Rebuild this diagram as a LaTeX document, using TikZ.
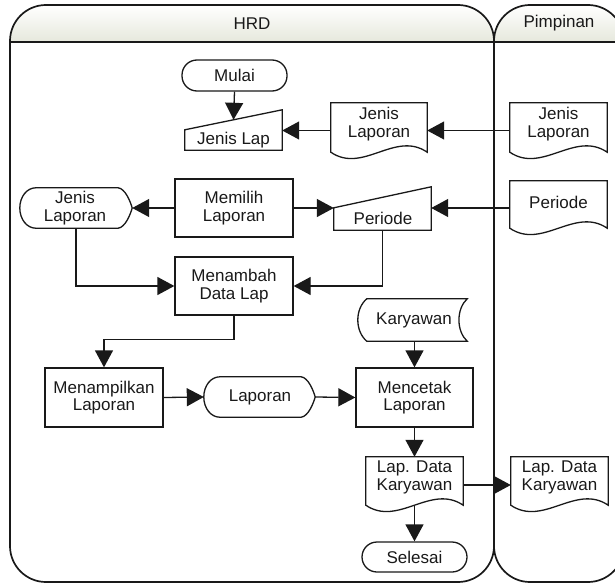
\documentclass[tikz,border=0pt]{standalone}
\usepackage{fontspec}
\setmainfont{Liberation Sans}
\usetikzlibrary{arrows.meta,calc}
\definecolor{hdr}{RGB}{230,232,220}
\definecolor{ink}{RGB}{25,25,25}
\newcommand\docshp[1]{\draw[shp] (#1.south west) -- (#1.north west) -- (#1.north east) -- (#1.south east) .. controls ($(#1.south east)!0.333!(#1.south west)+(0,-22)$) and ($(#1.south east)!0.667!(#1.south west)+(0,22)$) .. (#1.south west) -- cycle;}
\newcommand\manshp[2]{\draw[shp] ($(#1.north west)+(0,#2)$) -- (#1.north east) -- (#1.south east) -- (#1.south west) -- cycle;}
\newcommand\dispshp[1]{\draw[shp] ($(#1.north west)+(16,0)$) -- ($(#1.north east)+(-14,0)$) .. controls ($(#1.north east)+(-7,1)$) and ($(#1.east)+(-2,-7)$) .. (#1.east) .. controls ($(#1.east)+(-2,7)$) and ($(#1.south east)+(-7,-1)$) .. ($(#1.south east)+(-14,0)$) -- ($(#1.south west)+(16,0)$) .. controls ($(#1.south west)+(7,0)$) and ($(#1.west)!0.552!(#1.south west)$) .. (#1.west) .. controls ($(#1.west)!0.552!(#1.north west)$) and ($(#1.north west)+(7,0)$) .. cycle;}
\newcommand\storshp[1]{\draw[shp] ($(#1.north west)+(9,0)$) -- (#1.north east) .. controls ($(#1.north east)+(-11,10)$) and ($(#1.south east)+(-11,-10)$) .. (#1.south east) -- ($(#1.south west)+(9,0)$) .. controls ($(#1.south west)+(-3,-10)$) and ($(#1.north west)+(-3,10)$) .. cycle;}
\begin{document}
\begin{tikzpicture}[x=1pt,y=-1pt, font=\fontsize{17}{17.5}\selectfont, text=ink,
  shp/.style={draw=ink, line width=1.3pt},
  arr/.style={draw=ink, line width=1.3pt, -{Triangle[length=17pt,width=18pt]}},
  proc/.style={shp, rectangle, align=center, inner sep=0pt},
  term/.style={shp, rectangle, align=center, inner sep=0pt},
  blank/.style={inner sep=0pt, align=center},
  txt/.style={inner sep=0pt, align=center},
  lane/.style={draw=ink, line width=1.7pt, rounded corners=36pt}]
\useasboundingbox (0,0) rectangle (615,583);
\clip (0,0) rectangle (615,583);
% lanes
\begin{scope}
  \clip[rounded corners=36pt] (10,5) rectangle (494,582);
  \shade[top color=white, bottom color=hdr] (10,5) rectangle (494,42);
\end{scope}
\begin{scope}
  \clip[rounded corners=36pt] (494,5) rectangle (624,582);
  \shade[top color=white, bottom color=hdr] (494,5) rectangle (624,42);
\end{scope}
\draw[lane] (10,5) rectangle (494,582);
\draw[lane] (494,5) rectangle (624,582);
\draw[draw=ink, line width=1.5pt] (10,42) -- (624,42);
\node[txt] (hrdt) at (252,23.5) {HRD};
\node[txt] (pimt) at (559,23.5) {Pimpinan};
% nodes
\node[term, rounded corners=15pt, minimum width=105pt, minimum height=31pt] (mulai) at (234.5,75.5) {Mulai};
\node[blank, minimum width=97pt, minimum height=40pt] (jlap) at (233.5,130) {};
\manshp{jlap}{20}
\node[txt] (jlapt) at (233.5,140) {Jenis Lap};
\node[blank, minimum width=96pt, minimum height=49pt] (jlh) at (379,127.5) {};
\docshp{jlh}
\node[txt] (jlht) at (379,124) {Jenis\\Laporan};
\node[blank, minimum width=97pt, minimum height=49pt] (jlp) at (558.5,127.5) {};
\docshp{jlp}
\node[txt] (jlpt) at (558.5,124) {Jenis\\Laporan};
\node[proc, minimum width=118pt, minimum height=58pt] (memilih) at (234,208) {Memilih\\Laporan};
\node[blank, minimum width=112pt, minimum height=40pt] (jld) at (76,208) {};
\dispshp{jld}
\node[txt] (jldt) at (75,208) {Jenis\\Laporan};
\node[blank, minimum width=97pt, minimum height=43pt] (perm) at (382.5,208.5) {};
\manshp{perm}{21}
\node[txt] (permt) at (383,218) {Periode};
\node[blank, minimum width=97pt, minimum height=47pt] (perp) at (558.5,204.5) {};
\docshp{perp}
\node[txt] (perpt) at (558.5,202) {Periode};
\node[proc, minimum width=118pt, minimum height=58pt] (menambah) at (234,286) {Menambah\\Data Lap};
\node[proc, minimum width=118pt, minimum height=59pt] (menampilkan) at (104,397.5) {Menampilkan\\Laporan};
\node[blank, minimum width=111pt, minimum height=40pt] (lap) at (259.5,397) {};
\dispshp{lap}
\node[txt] (lapt) at (260,397) {Laporan};
\node[proc, minimum width=117pt, minimum height=59pt] (mencetak) at (414.5,397.5) {Mencetak\\Laporan};
\node[blank, minimum width=109pt, minimum height=42pt] (kary) at (412.5,320) {};
\storshp{kary}
\node[txt] (karyt) at (414,320) {Karyawan};
\node[blank, minimum width=97pt, minimum height=48pt] (ldkh) at (414.5,481) {};
\docshp{ldkh}
\node[txt] (ldkht) at (414.5,477.5) {Lap. Data\\Karyawan};
\node[blank, minimum width=97pt, minimum height=48pt] (ldkp) at (559.5,481) {};
\docshp{ldkp}
\node[txt] (ldkpt) at (559.5,477.5) {Lap. Data\\Karyawan};
\node[term, rounded corners=15pt, minimum width=105pt, minimum height=30pt] (selesai) at (414.5,557) {Selesai};
% connectors
\coordinate (jlhw) at ($(jlh.west)+(0,3)$);
\coordinate (ldkhe) at ($(ldkh.east)+(0,4)$);
\draw[arr] (mulai.south) -- ($(jlap.north)+(0,10)$);
\draw[arr] ($(jlp.west)+(0,3)$) -- ($(jlh.east)+(0,3)$);
\draw[arr] (jlhw) -- (jlhw -| jlap.east);
\draw[arr] (memilih.west) -- (jld.east);
\draw[arr] (memilih.east) -- (memilih.east -| perm.west);
\draw[arr] (memilih.east -| perp.west) -- (memilih.east -| perm.east);
\draw[arr] (jld.south) |- (menambah.west);
\draw[arr] (perm.south) |- (menambah.east);
\draw[arr] (menambah.south) -- ++(0,24) -| (menampilkan.north);
\draw[arr] (menampilkan.east) -- (lap.west);
\draw[arr] (lap.east) -- (mencetak.west);
\draw[arr] (kary.south -| mencetak.north) -- (mencetak.north);
\draw[arr] (mencetak.south) -- (ldkh.north);
\draw[arr] (ldkhe) -- (ldkhe -| ldkp.west);
\draw[arr] (ldkh.south) -- (selesai.north);
\end{tikzpicture}
\end{document}
